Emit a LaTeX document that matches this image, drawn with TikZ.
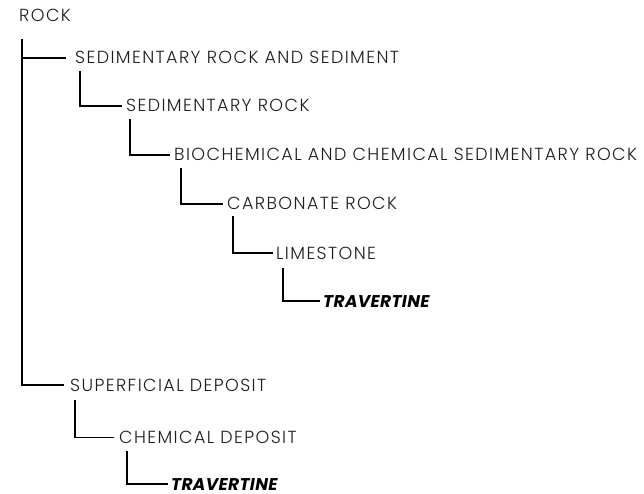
\documentclass[tikz,border=0pt]{standalone}
\usepackage{fontspec}
\setmainfont{Poppins}[UprightFont={* Light}, BoldItalicFont={* Bold Italic}]
\usepackage{xcolor}
\usetikzlibrary{positioning}
\definecolor{ink}{RGB}{30,30,30}

\begin{document}
\begin{tikzpicture}[
  x=1pt, y=-1pt,
  item/.style={anchor=west, inner sep=2pt, text height=12pt, text depth=0pt, text=ink,
    font=\fontsize{17.5}{19}\selectfont\addfontfeatures{LetterSpace=8}},
  leaf/.style={item, text=black, font=\fontsize{17}{19}\selectfont\bfseries\itshape\addfontfeatures{LetterSpace=2}},
  link/.style={line width=1.3pt, line cap=rect},
]
  \useasboundingbox (0,0) rectangle (644,494);
  % sedimentary branch
  \node[item] (rock) at (17,16) {ROCK};
  \node[item] (sras) at (73,58) {SEDIMENTARY ROCK AND SEDIMENT};
  \node[item] (sr) at (124,106) {SEDIMENTARY ROCK};
  \node[item] (bcsr) at (172,155) {BIOCHEMICAL AND CHEMICAL SEDIMENTARY ROCK};
  \node[item] (cr) at (225,204) {CARBONATE ROCK};
  \node[item] (lime) at (274,253) {LIMESTONE};
  \node[leaf] (trav) at (321,301) {TRAVERTINE};
  % superficial branch
  \node[item] (sup) at (68,385) {SUPERFICIAL DEPOSIT};
  \node[item] (chem) at (117,437.5) {CHEMICAL DEPOSIT};
  \node[leaf] (trav2) at (169,484) {TRAVERTINE};

  \draw[link] ([shift={(5pt,-15pt)}]rock.south west) |- ([xshift=-8pt]sras.west);
  \draw[link] ([shift={(5pt,-15pt)}]rock.south west) |- ([xshift=-5pt]sup.west);
  \draw[link] ([shift={(7pt,-5pt)}]sras.south west) |- ([xshift=-3pt]sr.west);
  \draw[link] ([shift={(6pt,-5pt)}]sr.south west) |- ([xshift=-3pt]bcsr.west);
  \draw[link] ([shift={(9pt,-5pt)}]bcsr.south west) |- ([xshift=-3pt]cr.west);
  \draw[link] ([shift={(8pt,-4pt)}]cr.south west) |- ([xshift=-2pt]lime.west);
  \draw[link] ([shift={(9pt,-7pt)}]lime.south west) |- ([xshift=-2pt]trav.west);
  \draw[link] ([shift={(7pt,-7pt)}]sup.south west) |- ([xshift=-4pt]chem.west);
  \draw[link] ([shift={(10pt,-6pt)}]chem.south west) |- ([xshift=-2pt]trav2.west);
\end{tikzpicture}
\end{document}
